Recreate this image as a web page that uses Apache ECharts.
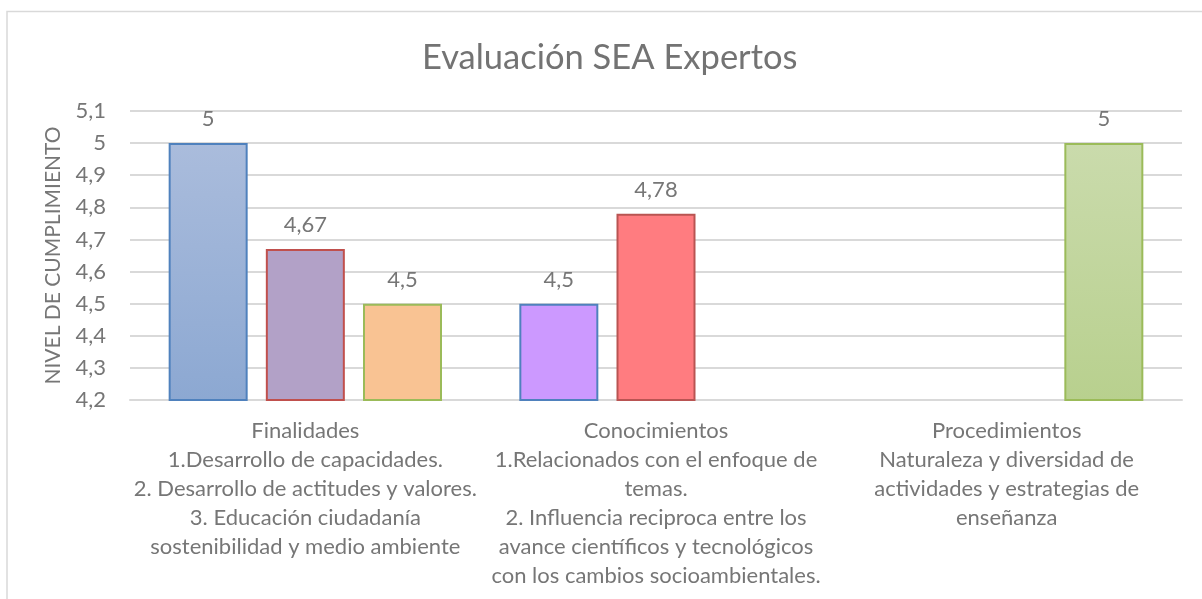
<!DOCTYPE html>
<html>
<head>
<meta charset="utf-8">
<script src="https://cdn.jsdelivr.net/npm/echarts@6/dist/echarts.min.js"></script>
<style>
  html, body { margin: 0; padding: 0; background: #fff; }
  #main { width: 1202px; height: 599px; }
</style>
</head>
<body>
<div id="main"></div>
<script>
var categories = [
    'Finalidades\n1.Desarrollo de capacidades.\n2. Desarrollo de actitudes y valores.\n3. Educación ciudadanía\nsostenibilidad y medio ambiente',
    'Conocimientos\n1.Relacionados con el enfoque de\ntemas.\n2. Influencia reciproca entre los\navance científicos y tecnológicos\ncon los cambios socioambientales.',
    'Procedimientos\nNaturaleza y diversidad de\nactividades y estrategias de\nenseñanza'
];
var serie1 = [5, 4.5, null];
var serie2 = [4.67, 4.78, null];
var serie3 = [4.5, null, 5];
var yTicks = [4.2, 4.3, 4.4, 4.5, 4.6, 4.7, 4.8, 4.9, 5, 5.1];

// colores de cada barra (relleno arriba, relleno abajo, borde)
var estilos = [
    [['#aabcdc', '#8ca8d2', '#4f81bd'], ['#cc99ff', '#cc99ff', '#4f81bd'], null],
    [['#b2a1c7', '#b2a1c7', '#c0504d'], ['#ff7c80', '#ff7c80', '#b95452'], null],
    [['#f9c393', '#f9c393', '#9bbb59'], null, ['#cadbac', '#b8d08e', '#9bbb59']]
];

function coma(v) {
    return String(v).replace('.', ',');
}

function armar(valores, est) {
    var out = [];
    for (var i = 0; i < valores.length; i++) {
        var s = est[i];
        if (valores[i] == null || !s) { out.push(null); continue; }
        out.push({
            value: valores[i],
            itemStyle: {
                color: new echarts.graphic.LinearGradient(0, 0, 0, 1, [
                    { offset: 0, color: s[0] }, { offset: 1, color: s[1] }
                ]),
                borderColor: s[2],
                borderWidth: 2
            }
        });
    }
    return out;
}

var fuente = 'Lato, "Noto Sans", sans-serif';
var gris = '#767676';

var myChart = echarts.init(document.getElementById('main'));
var series = [serie1, serie2, serie3].map(function (vals, k) {
    return {
        type: 'bar',
        data: armar(vals, estilos[k]),
        barWidth: 79,
        barGap: '23%',
        label: {
            show: true,
            position: 'top',
            distance: 13,
            color: gris,
            fontFamily: fuente,
            fontSize: 22,
            formatter: function (p) { return coma(p.value); }
        }
    };
});

var option = {
    animation: false,
    title: {
        text: 'Evaluación SEA Expertos',
        left: 417,
        top: 35,
        textStyle: { color: '#737373', fontFamily: fuente, fontSize: 34.5, fontWeight: 'normal' }
    },
    graphic: [{
        type: 'rect',
        shape: { x: 7, y: 11.5, width: 1220, height: 620 },
        style: { fill: 'none', stroke: '#d9d9d9', lineWidth: 1.5 }
    }],
    grid: { left: 130, right: 20, top: 111, bottom: 199 },
    xAxis: {
        type: 'category',
        data: categories,
        axisLine: { lineStyle: { color: '#d9d9d9', width: 2 } },
        axisTick: { show: false },
        axisLabel: {
            interval: 0,
            margin: 16,
            color: gris,
            fontFamily: fuente,
            fontSize: 22,
            lineHeight: 29
        }
    },
    yAxis: {
        type: 'value',
        min: yTicks[0],
        max: yTicks[yTicks.length - 1],
        interval: 0.1,
        name: 'NIVEL DE CUMPLIMIENTO',
        nameLocation: 'middle',
        nameGap: 66,
        nameTextStyle: { color: gris, fontFamily: fuente, fontSize: 21 },
        axisLine: { show: false },
        axisTick: { show: false },
        splitLine: { lineStyle: { color: '#d9d9d9', width: 2 } },
        axisLabel: {
            margin: 24,
            color: gris,
            fontFamily: fuente,
            fontSize: 22,
            formatter: function (v) { return coma(Math.round(v * 10) / 10); }
        }
    },
    series: series
};
myChart.setOption(option);
</script>
</body>
</html>
